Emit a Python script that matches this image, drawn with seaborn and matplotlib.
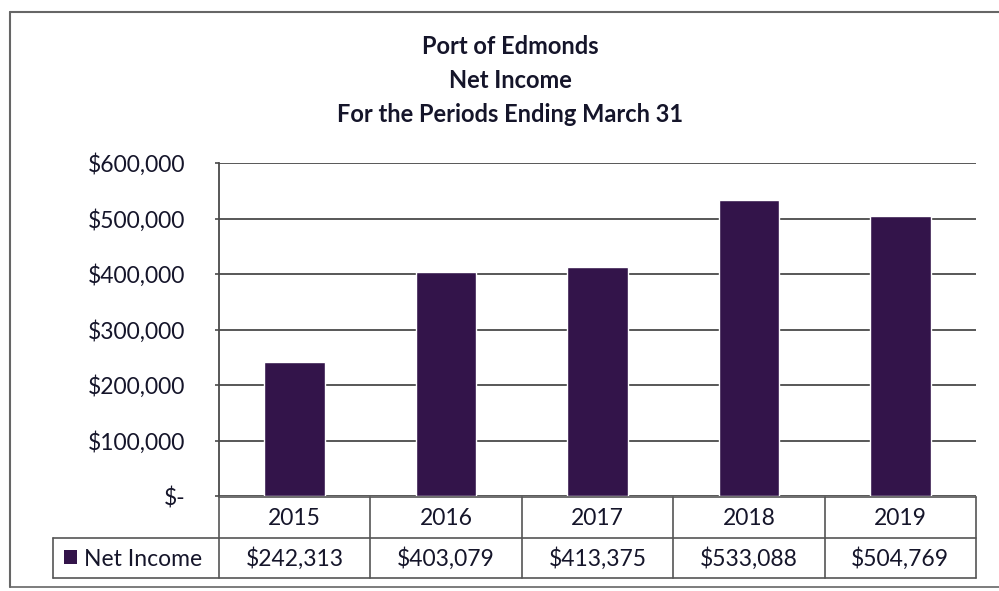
import matplotlib
matplotlib.use("Agg")
import matplotlib.pyplot as plt
import seaborn as sns
import pandas as pd
from matplotlib.lines import Line2D
from matplotlib.patches import Rectangle

years = ["2015", "2016", "2017", "2018", "2019"]
net_income = [242313, 403079, 413375, 533088, 504769]
series_name = "Net Income"
title_lines = ["Port of Edmonds", "Net Income", "For the Periods Ending March 31"]
y_ticks = [0, 100000, 200000, 300000, 400000, 500000, 600000]

sns.set_theme(style="white")
plt.rcParams['font.family'] = ['Lato', 'DejaVu Sans']

W, H = 999, 591
fig = plt.figure(figsize=(W / 100, H / 100), dpi=100)

def fx(px):
    return px / W

def fy(py):
    return 1 - py / H

bar_color = "#33144a"
grid_color = "#4a4a4a"
text_color = "#15152a"
fs = 16.5

L, R, T, B = 219, 976, 163, 496
ax = fig.add_axes([fx(L), fy(B), fx(R) - fx(L), fy(T) - fy(B)])

df = pd.DataFrame({"year": years, "value": net_income})
sns.barplot(data=df, x="year", y="value", color=bar_color, saturation=1,
            width=0.4, ax=ax, zorder=3)
ax.set_ylim(0, 600000)
ax.set_xlim(-0.5, len(years) - 0.5)
ax.set_yticks(y_ticks)
ax.set_yticklabels(["$-" if v == 0 else f"${v:,.0f}" for v in y_ticks],
                   fontsize=fs, color=text_color)
ax.tick_params(axis="y", length=3, width=1.2, color=grid_color, pad=21, left=True)
ax.set_xticks([])
ax.set_xlabel("")
ax.set_ylabel("")
ax.yaxis.grid(True, color=grid_color, linewidth=1.3, zorder=0)
ax.set_axisbelow(True)
for s in ["top", "right", "bottom"]:
    ax.spines[s].set_visible(False)
ax.spines["left"].set_color(grid_color)
ax.spines["left"].set_linewidth(1.3)
ax.patch.set_alpha(0)

# title
for line, py in zip(title_lines, [47, 80, 114]):
    fig.text(fx(510), fy(py), line, ha="center", va="center", fontsize=17,
             fontweight="bold", color=text_color)

# data table
row_top, row_mid, row_bot = 497, 538, 578
leg_left = 53
col_w = (R - L) / len(years)
lc = "#555555"
lw = 1.2

def hline(x0, x1, y):
    fig.add_artist(Line2D([fx(x0), fx(x1)], [fy(y), fy(y)], color=lc, lw=lw,
                          transform=fig.transFigure))

def vline(x, y0, y1):
    fig.add_artist(Line2D([fx(x), fx(x)], [fy(y0), fy(y1)], color=lc, lw=lw,
                          transform=fig.transFigure))

hline(L, R, row_top)
hline(leg_left, R, row_mid)
hline(leg_left, R, row_bot)
vline(leg_left, row_mid, row_bot)
for i in range(len(years) + 1):
    vline(L + i * col_w, row_top, row_bot)

for i, (yr, v) in enumerate(zip(years, net_income)):
    cx = L + (i + 0.5) * col_w
    fig.text(fx(cx), fy((row_top + row_mid) / 2 + 1), yr, ha="center", va="center",
             fontsize=fs, color=text_color)
    fig.text(fx(cx), fy((row_mid + row_bot) / 2 + 1), f"${v:,.0f}", ha="center",
             va="center", fontsize=fs, color=text_color)

# legend key in table
fig.add_artist(Rectangle((fx(64), fy(564)), fx(13), fy(550) - fy(564),
                         transform=fig.transFigure, facecolor=bar_color,
                         edgecolor="none"))
fig.text(fx(84), fy((row_mid + row_bot) / 2 + 1), series_name, ha="left", va="center",
         fontsize=fs, color=text_color)

# outer chart frame
fc = "#666666"
fig.add_artist(Line2D([fx(10), fx(999)], [fy(12), fy(12)], color=fc, lw=1.5,
                      transform=fig.transFigure))
fig.add_artist(Line2D([fx(10), fx(10)], [fy(12), fy(587)], color=fc, lw=1.5,
                      transform=fig.transFigure))
fig.add_artist(Line2D([fx(10), fx(999)], [fy(587), fy(587)], color=fc, lw=1.2,
                      transform=fig.transFigure))

fig.savefig("out.png", dpi=100)
